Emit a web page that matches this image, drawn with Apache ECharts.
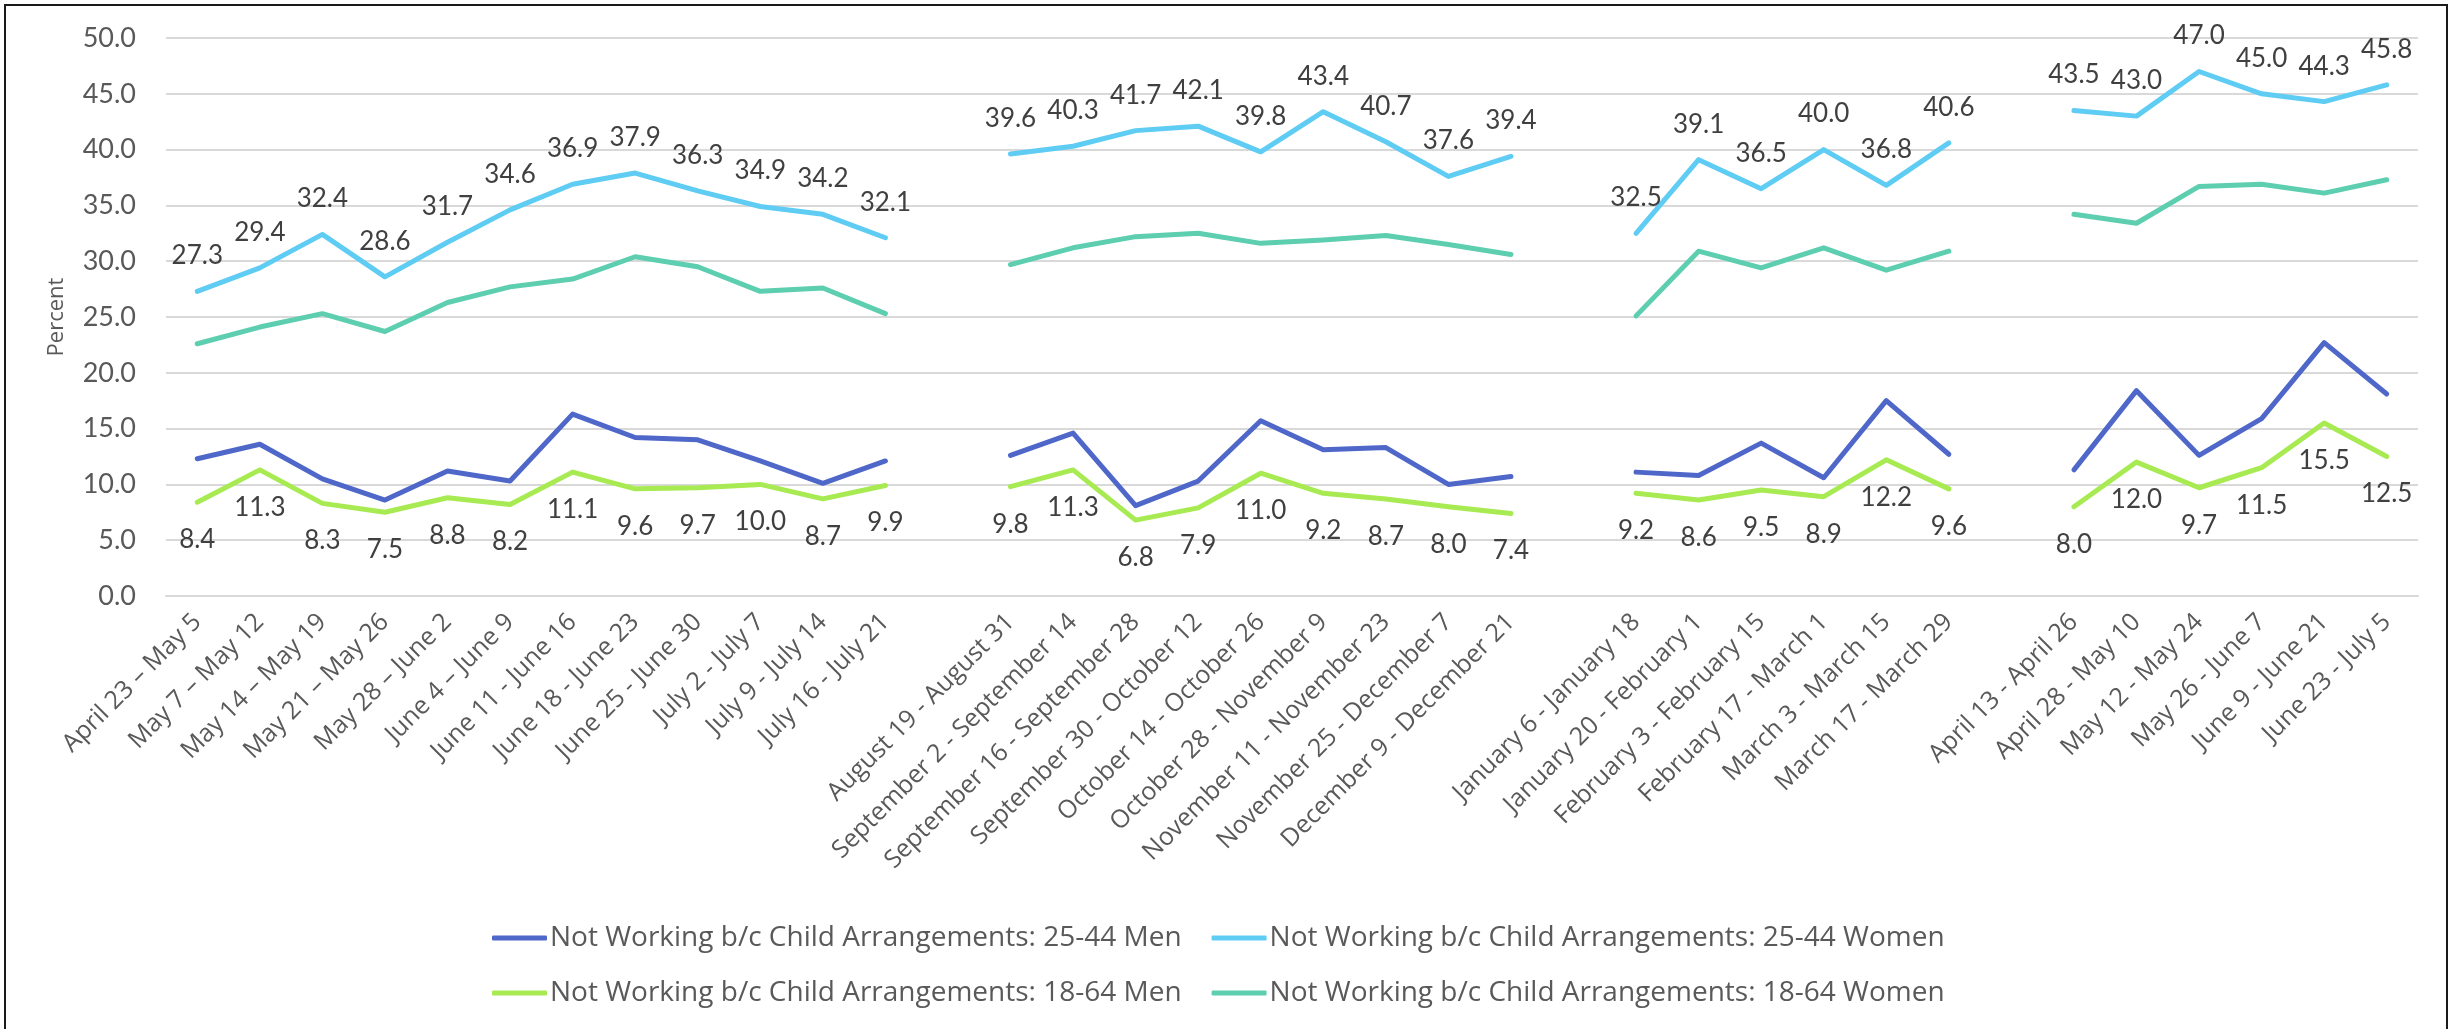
<!DOCTYPE html>
<html>
<head>
<meta charset="utf-8">
<script src="https://cdn.jsdelivr.net/npm/echarts@6/dist/echarts.min.js"></script>
<style>
html,body{margin:0;padding:0;background:#fff;}
#chart{width:2458px;height:1029px;}
</style>
</head>
<body>
<div id="chart"></div>
<script>
// Categories ('' = gap between survey phases)
var categories = [
  'April 23 \u2013 May 5','May 7 \u2013 May 12','May 14 \u2013 May 19','May 21 \u2013 May 26','May 28 \u2013 June 2','June 4 \u2013 June 9',
  'June 11 - June 16','June 18 - June 23','June 25 - June 30','July 2 - July 7','July 9 - July 14','July 16 - July 21',
  '',
  'August 19 - August 31','September 2 - September 14','September 16 - September 28','September 30 - October 12','October 14 - October 26',
  'October 28 - November 9','November 11 - November 23','November 25 - December 7','December 9 - December 21',
  '',
  'January 6 - January 18','January 20 - February 1','February 3 - February 15','February 17 - March 1','March 3 - March 15','March 17 - March 29',
  '',
  'April 13 - April 26','April 28 - May 10','May 12 - May 24','May 26 - June 7','June 9 - June 21','June 23 - July 5'
];

var men2544 = [12.3,13.6,10.5,8.6,11.2,10.3,16.3,14.2,14.0,12.1,10.1,12.1, null,
  12.6,14.6,8.1,10.3,15.7,13.1,13.3,10.0,10.7, null,
  11.1,10.8,13.7,10.6,17.5,12.7, null,
  11.3,18.4,12.6,15.9,22.7,18.1];
var women2544 = [27.3,29.4,32.4,28.6,31.7,34.6,36.9,37.9,36.3,34.9,34.2,32.1, null,
  39.6,40.3,41.7,42.1,39.8,43.4,40.7,37.6,39.4, null,
  32.5,39.1,36.5,40.0,36.8,40.6, null,
  43.5,43.0,47.0,45.0,44.3,45.8];
var men1864 = [8.4,11.3,8.3,7.5,8.8,8.2,11.1,9.6,9.7,10.0,8.7,9.9, null,
  9.8,11.3,6.8,7.9,11.0,9.2,8.7,8.0,7.4, null,
  9.2,8.6,9.5,8.9,12.2,9.6, null,
  8.0,12.0,9.7,11.5,15.5,12.5];
var women1864 = [22.6,24.1,25.3,23.7,26.3,27.7,28.4,30.4,29.5,27.3,27.6,25.3, null,
  29.7,31.2,32.2,32.5,31.6,31.9,32.3,31.5,30.6, null,
  25.1,30.9,29.4,31.2,29.2,30.9, null,
  34.2,33.4,36.7,36.9,36.1,37.3];

var seriesNames = [
  'Not Working b/c Child Arrangements: 25-44 Men',
  'Not Working b/c Child Arrangements: 25-44 Women',
  'Not Working b/c Child Arrangements: 18-64 Men',
  'Not Working b/c Child Arrangements: 18-64 Women'
];
var colors = ['#4E67C8', '#5ECCF3', '#A7EA52', '#5DCEAF'];

var FONT = 'Lato, "Open Sans", sans-serif';
var FONT2 = '"Open Sans", Lato, sans-serif';
var chart = echarts.init(document.getElementById('chart'), null, {renderer: 'canvas'});

function lineSeries(idx, data, labelPos) {
  var s = {
    name: seriesNames[idx],
    type: 'line',
    data: data,
    connectNulls: false,
    symbol: 'circle',
    symbolSize: 1,
    itemStyle: {color: colors[idx]},
    lineStyle: {color: colors[idx], width: 5, cap: 'round', join: 'round'},
    emphasis: {disabled: true},
    animation: false,
    z: 2
  };
  if (labelPos) {
    s.label = {
      show: true,
      position: labelPos,
      distance: labelPos === 'top' ? 22 : 24,
      color: '#404040',
      fontSize: 26,
      fontFamily: FONT,
      formatter: function (p) { return p.value == null ? '' : Number(p.value).toFixed(1); }
    };
  } else {
    s.label = {show: false};
  }
  return s;
}

var legendCommon = {
  left: 487,
  orient: 'horizontal',
  icon: 'roundRect',
  itemWidth: 55,
  itemHeight: 5,
  itemGap: 30,
  textStyle: {fontSize: 28, color: '#595959', fontFamily: FONT2, padding: [0,0,0,-2]},
  selectedMode: false
};

chart.setOption({
  backgroundColor: '#ffffff',
  animation: false,
  color: colors,
  grid: {left: 166, right: 40, top: 38, bottom: 433, containLabel: false},
  xAxis: {
    type: 'category',
    data: categories,
    boundaryGap: true,
    axisLine: {show: true, lineStyle: {color: '#D9D9D9', width: 2}},
    axisTick: {show: false},
    axisLabel: {
      interval: 0,
      rotate: 45,
      margin: 22,
      fontSize: 25,
      color: '#595959',
      fontFamily: FONT2
    },
    splitLine: {show: false}
  },
  yAxis: {
    type: 'value',
    min: 0,
    max: 50,
    interval: 5,
    name: 'Percent',
    nameLocation: 'middle',
    nameGap: 98,
    nameRotate: 90,
    nameTextStyle: {fontSize: 22, color: '#595959', fontFamily: FONT2},
    axisLine: {show: false},
    axisTick: {show: false},
    axisLabel: {
      fontSize: 27,
      color: '#595959',
      fontFamily: FONT,
      margin: 30,
      formatter: function (v) { return v.toFixed(1); }
    },
    splitLine: {lineStyle: {color: '#D9D9D9', width: 2}}
  },
  legend: [
    Object.assign({}, legendCommon, {top: 919, data: [seriesNames[0], seriesNames[1]]}),
    Object.assign({}, legendCommon, {top: 974, data: [seriesNames[2], seriesNames[3]]})
  ],
  graphic: [{
    type: 'rect',
    shape: {x: 5, y: 5, width: 2442, height: 1040},
    style: {fill: 'none', stroke: '#1a1a1a', lineWidth: 2},
    silent: true,
    z: 100
  }],
  series: [
    lineSeries(3, women1864, null),
    lineSeries(0, men2544, null),
    lineSeries(1, women2544, 'top'),
    lineSeries(2, men1864, 'bottom')
  ]
});
</script>
</body>
</html>
